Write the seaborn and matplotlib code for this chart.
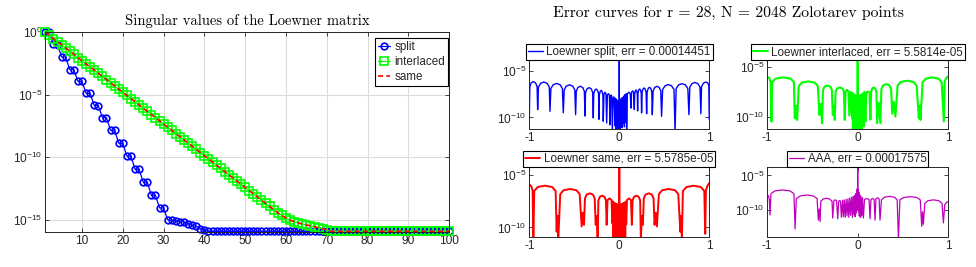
import numpy as np
import matplotlib
matplotlib.use('Agg')
import matplotlib.pyplot as plt
import seaborn as sns

# ============================================================================
# DATA (log10 values)
# ============================================================================

sv_index = np.arange(1, 101)

split_sv_log = [0.00, -0.03, -0.98, -1.00, -1.99, -2.01, -3.00, -3.02, -3.93, -3.95,
                -4.89, -4.91, -5.86, -5.88, -6.83, -6.85, -7.84, -7.86, -8.88, -8.90,
                -9.90, -9.92, -10.95, -10.97, -11.98, -12.00, -13.03, -13.05, -14.04, -14.06,
                -14.99, -15.04, -15.09, -15.15, -15.17, -15.31, -15.44, -15.52, -15.71, -15.85] \
               + [-15.92] * 60

interlaced_sv_log = [0.00, -0.25, -0.55, -0.78, -1.03, -1.28, -1.52, -1.78, -2.05, -2.30,
                     -2.55, -2.80, -3.04, -3.29, -3.55, -3.80, -4.05, -4.31, -4.56, -4.81,
                     -5.07, -5.32, -5.57, -5.83, -6.08, -6.33, -6.59, -6.84, -7.09, -7.35,
                     -7.60, -7.85, -8.11, -8.36, -8.61, -8.87, -9.12, -9.37, -9.63, -9.88,
                     -10.13, -10.39, -10.64, -10.89, -11.15, -11.40, -11.65, -11.91, -12.16, -12.41,
                     -12.67, -12.92, -13.17, -13.43, -13.68, -13.93, -14.19, -14.44, -14.65, -14.85,
                     -15.02, -15.14, -15.24, -15.33, -15.41, -15.48, -15.56, -15.63, -15.71, -15.80] \
                    + [-15.92] * 30

# "same" sits on top of "interlaced" at this scale
same_sv_log = list(interlaced_sv_log)

sv_labels = ['split', 'interlaced', 'same']

# error curves: (x, log10 |error|) vertices
split_curve = [
    (-1.000, -10.2), (-0.994, -6.7), (-0.980, -6.3), (-0.955, -6.15), (-0.930, -6.3), (-0.913, -6.7), (-0.907, -9.16),
    (-0.898, -6.75), (-0.875, -6.35), (-0.838, -6.2), (-0.801, -6.35), (-0.778, -6.75), (-0.770, -9.34),
    (-0.760, -6.9), (-0.735, -6.5), (-0.696, -6.35), (-0.657, -6.5), (-0.632, -6.9), (-0.622, -9.5),
    (-0.612, -7.05), (-0.590, -6.65), (-0.553, -6.5), (-0.516, -6.65), (-0.494, -7.05), (-0.485, -9.7),
    (-0.478, -7.2), (-0.461, -6.8), (-0.433, -6.65), (-0.405, -6.8), (-0.388, -7.2), (-0.381, -9.85),
    (-0.375, -7.35), (-0.360, -6.95), (-0.335, -6.8), (-0.310, -6.95), (-0.295, -7.35), (-0.289, -10.05),
    (-0.284, -7.45), (-0.273, -7.1), (-0.257, -6.95), (-0.241, -7.1), (-0.230, -7.45), (-0.226, -10.2),
    (-0.222, -7.6), (-0.212, -7.2), (-0.202, -7.1), (-0.192, -7.2), (-0.182, -7.6), (-0.178, -10.4),
    (-0.170, -7.45), (-0.159, -7.3), (-0.148, -7.45), (-0.140, -10.6),
    (-0.132, -7.6), (-0.121, -7.45), (-0.110, -7.6), (-0.103, -10.8),
    (-0.096, -7.7), (-0.090, -7.6), (-0.084, -7.7), (-0.077, -11.5),
    (-0.068, -7.9), (-0.062, -7.8), (-0.056, -7.9), (-0.048, -10.9),
    (-0.041, -7.95), (-0.035, -11.5), (-0.029, -8.1), (-0.024, -10.7), (-0.019, -8.2),
    (-0.014, -11.5), (-0.010, -8.3), (-0.006, -10.9), (-0.003, -8.35), (-0.001, -11.2),
    (0.000, -3.84),
    (0.001, -11.0), (0.004, -8.25), (0.008, -11.5), (0.013, -8.1), (0.018, -10.7),
    (0.024, -7.95), (0.030, -11.1), (0.036, -7.85), (0.043, -10.6), (0.050, -7.7),
    (0.057, -11.0), (0.064, -7.55), (0.071, -10.5), (0.077, -7.45), (0.082, -11.5),
    (0.090, -7.45), (0.106, -7.3), (0.122, -7.45), (0.130, -9.0),
    (0.137, -7.3), (0.148, -7.15), (0.159, -7.3), (0.167, -9.15),
    (0.171, -7.5), (0.178, -7.15), (0.186, -7.05), (0.194, -7.15), (0.200, -7.5), (0.204, -9.3),
    (0.208, -7.4), (0.216, -7.05), (0.226, -6.95), (0.236, -7.05), (0.244, -7.4), (0.248, -9.5),
    (0.254, -7.3), (0.264, -6.95), (0.276, -6.84), (0.288, -6.95), (0.298, -7.3), (0.304, -9.6),
    (0.310, -7.25), (0.322, -6.88), (0.336, -6.77), (0.350, -6.88), (0.361, -7.25), (0.367, -9.7),
    (0.376, -7.15), (0.395, -6.78), (0.419, -6.66), (0.443, -6.78), (0.461, -7.15), (0.470, -9.88),
    (0.482, -7.0), (0.510, -6.6), (0.545, -6.48), (0.580, -6.6), (0.608, -7.0), (0.620, -11.5),
    (0.632, -6.9), (0.660, -6.5), (0.697, -6.38), (0.734, -6.5), (0.762, -6.9), (0.774, -9.7),
    (0.784, -6.75), (0.808, -6.37), (0.840, -6.25), (0.872, -6.37), (0.897, -6.75), (0.907, -9.6),
    (0.914, -6.7), (0.935, -6.32), (0.960, -6.2), (0.985, -6.3), (0.995, -6.6), (1.000, -10.2),
]

interlaced_curve = [
    (-1.000, -5.92), (-0.975, -6.1), (-0.960, -6.5), (-0.952, -10.5),
    (-0.942, -6.5), (-0.905, -6.14), (-0.823, -6.02), (-0.741, -6.14), (-0.704, -6.5),
    (-0.694, -10.17), (-0.681, -8.9), (-0.668, -10.34),
    (-0.650, -6.9), (-0.617, -6.55), (-0.545, -6.43), (-0.473, -6.55), (-0.440, -6.9),
    (-0.422, -9.83), (-0.407, -8.7), (-0.393, -10.68),
    (-0.383, -7.3), (-0.367, -6.96), (-0.334, -6.84), (-0.301, -6.96), (-0.285, -7.3),
    (-0.275, -9.83), (-0.264, -8.9), (-0.253, -10.34),
    (-0.244, -7.5), (-0.229, -7.16), (-0.198, -7.04), (-0.167, -7.16), (-0.152, -7.5), (-0.143, -10.34),
    (-0.134, -7.45), (-0.118, -7.28), (-0.102, -7.45), (-0.092, -9.9),
    (-0.077, -7.5), (-0.062, -10.17),
    (-0.058, -7.6), (-0.053, -11.5), (-0.047, -7.7), (-0.042, -10.6), (-0.036, -7.8),
    (-0.031, -11.5), (-0.025, -7.85), (-0.020, -10.8), (-0.015, -7.9), (-0.010, -11.5),
    (-0.006, -8.0), (-0.003, -10.9), (-0.001, -8.1),
    (0.000, -4.253),
    (0.002, -11.5), (0.006, -8.0), (0.010, -10.9), (0.015, -7.9), (0.020, -11.5),
    (0.026, -7.85), (0.032, -10.7), (0.038, -7.8), (0.044, -11.5), (0.050, -7.7),
    (0.056, -10.6), (0.062, -7.6), (0.068, -11.0), (0.074, -7.5), (0.085, -10.5),
    (0.094, -7.6), (0.112, -7.45), (0.130, -7.6), (0.140, -10.3),
    (0.148, -7.5), (0.159, -7.16), (0.177, -7.04), (0.195, -7.16), (0.206, -7.5),
    (0.214, -10.68), (0.232, -8.6), (0.250, -10.68),
    (0.261, -7.2), (0.282, -6.82), (0.315, -6.7), (0.348, -6.82), (0.369, -7.2),
    (0.380, -9.7), (0.398, -8.5), (0.416, -10.0),
    (0.440, -6.85), (0.475, -6.48), (0.545, -6.36), (0.615, -6.48), (0.650, -6.85),
    (0.674, -10.17), (0.683, -8.9), (0.692, -10.34),
    (0.716, -6.5), (0.752, -6.14), (0.821, -6.02), (0.890, -6.14), (0.926, -6.5),
    (0.950, -10.5), (0.960, -6.4), (0.978, -6.05), (1.000, -5.92),
]

same_curve = [
    (-1.000, -5.92), (-0.978, -6.1), (-0.963, -6.5), (-0.955, -11.2),
    (-0.945, -6.55), (-0.905, -6.17), (-0.826, -6.05), (-0.747, -6.17), (-0.707, -6.55),
    (-0.696, -10.4), (-0.687, -8.9), (-0.678, -11.2),
    (-0.656, -6.85), (-0.620, -6.48), (-0.548, -6.36), (-0.476, -6.48), (-0.440, -6.85),
    (-0.418, -9.9), (-0.405, -8.6), (-0.392, -9.75),
    (-0.381, -7.25), (-0.362, -6.89), (-0.327, -6.77), (-0.292, -6.89), (-0.273, -7.25),
    (-0.262, -9.75), (-0.251, -8.9), (-0.240, -11.2),
    (-0.232, -7.45), (-0.217, -7.11), (-0.190, -6.99), (-0.163, -7.11), (-0.148, -7.45), (-0.140, -9.75),
    (-0.130, -7.4), (-0.108, -7.25), (-0.086, -7.4), (-0.077, -9.6),
    (-0.072, -7.55), (-0.066, -11.2), (-0.060, -7.65), (-0.054, -10.3), (-0.048, -7.7),
    (-0.042, -11.2), (-0.036, -7.75), (-0.030, -10.5), (-0.024, -7.8), (-0.018, -11.2),
    (-0.013, -7.85), (-0.008, -10.4), (-0.004, -7.9), (-0.001, -11.2),
    (0.000, -4.2535),
    (0.001, -11.2), (0.004, -7.9), (0.008, -10.5), (0.013, -7.85), (0.018, -11.2),
    (0.024, -7.8), (0.030, -10.4), (0.036, -7.75), (0.042, -11.2), (0.048, -7.7),
    (0.054, -10.3), (0.060, -7.65), (0.066, -11.2), (0.072, -7.55), (0.077, -9.7),
    (0.086, -7.4), (0.108, -7.25), (0.130, -7.4), (0.140, -9.75),
    (0.148, -7.45), (0.163, -7.11), (0.190, -6.99), (0.217, -7.11), (0.232, -7.45),
    (0.240, -11.2), (0.251, -8.9), (0.262, -9.75),
    (0.273, -7.25), (0.292, -6.89), (0.327, -6.77), (0.362, -6.89), (0.381, -7.25),
    (0.392, -9.75), (0.405, -8.6), (0.418, -9.9),
    (0.440, -6.85), (0.476, -6.48), (0.548, -6.36), (0.620, -6.48), (0.656, -6.85),
    (0.678, -10.4), (0.687, -8.9), (0.696, -11.2),
    (0.707, -6.55), (0.747, -6.17), (0.826, -6.05), (0.905, -6.17), (0.945, -6.55),
    (0.955, -10.6), (0.963, -6.5), (0.980, -6.05), (1.000, -5.8),
]

aaa_curve = [
    (-1.000, -7.8), (-0.985, -7.9), (-0.975, -8.4), (-0.967, -10.66),
    (-0.957, -7.6), (-0.910, -7.2), (-0.830, -7.09), (-0.750, -7.2), (-0.703, -7.6), (-0.691, -12.66),
    (-0.677, -8.3), (-0.630, -7.92), (-0.562, -7.8), (-0.494, -7.92), (-0.448, -8.3), (-0.434, -11.4),
    (-0.425, -9.8), (-0.415, -11.6),
    (-0.407, -8.7), (-0.380, -8.38), (-0.345, -8.28), (-0.310, -8.38), (-0.283, -8.7), (-0.276, -11.1),
    (-0.262, -8.6), (-0.248, -8.5), (-0.234, -8.6), (-0.220, -11.2),
    (-0.210, -8.7), (-0.200, -8.6), (-0.190, -8.7), (-0.180, -11.0),
    (-0.168, -8.55), (-0.158, -10.9), (-0.148, -8.5), (-0.138, -11.0),
    (-0.128, -8.45), (-0.118, -10.8), (-0.108, -8.35), (-0.098, -11.0),
    (-0.088, -8.25), (-0.078, -10.7), (-0.068, -8.1), (-0.058, -11.0),
    (-0.050, -8.0), (-0.042, -10.6), (-0.035, -7.9), (-0.028, -10.9),
    (-0.022, -7.6), (-0.016, -10.4), (-0.012, -7.2), (-0.008, -10.0),
    (-0.005, -6.9), (-0.002, -9.5),
    (0.000, -3.755),
    (0.002, -9.8), (0.005, -7.0), (0.009, -10.2), (0.013, -7.4), (0.018, -10.8),
    (0.023, -7.8), (0.030, -11.0), (0.037, -8.0), (0.045, -10.8), (0.053, -8.2),
    (0.0625, -11.1), (0.075, -8.45), (0.100, -8.3), (0.125, -8.45), (0.136, -11.2),
    (0.146, -8.45), (0.163, -8.3), (0.181, -8.45), (0.191, -11.4),
    (0.201, -8.35), (0.218, -8.2), (0.236, -8.35), (0.246, -11.4),
    (0.262, -8.5), (0.295, -8.12), (0.350, -8.0), (0.405, -8.12), (0.435, -8.5), (0.449, -14.2),
    (0.465, -8.5), (0.507, -8.16), (0.578, -8.04), (0.649, -8.16), (0.690, -8.5), (0.706, -12.3),
    (0.715, -10.2), (0.724, -12.0),
    (0.740, -9.0), (0.775, -8.62), (0.835, -8.5), (0.895, -8.62), (0.930, -9.0), (0.945, -11.8),
    (0.960, -9.2), (0.980, -8.85), (1.000, -8.76),
]

err_labels = ['Loewner split, err = 0.00014451',
              'Loewner interlaced, err = 5.5814e-05',
              'Loewner same, err = 5.5785e-05',
              'AAA, err = 0.00017575']

# ============================================================================
# STYLE
# ============================================================================

sns.set_style('ticks')
plt.rcParams['font.family'] = ['Liberation Sans', 'DejaVu Sans']
plt.rcParams['mathtext.fontset'] = 'custom'
plt.rcParams['mathtext.rm'] = 'Liberation Sans'
plt.rcParams['mathtext.it'] = 'Liberation Sans:italic'
plt.rcParams['mathtext.bf'] = 'Liberation Sans:bold'
plt.rcParams['axes.unicode_minus'] = False
plt.rcParams['axes.edgecolor'] = '#262626'
plt.rcParams['axes.linewidth'] = 0.7

DARK = '#262626'
TICK_SIZE = 8.6
LEGEND_SIZE = 8.4


def style_axes(ax, size=TICK_SIZE):
    ax.tick_params(which='both', direction='in', length=3, width=0.6,
                   top=True, right=True, labelsize=size, pad=2, colors=DARK)
    ax.minorticks_off()
    for sp in ax.spines.values():
        sp.set_visible(True)
        sp.set_color(DARK)


fig = plt.figure(figsize=(9.76, 2.67), dpi=100)

# ============================================================================
# LEFT: singular values
# ============================================================================

ax = fig.add_axes([0.0464, 0.1311, 0.4138, 0.7491])
sns.lineplot(x=sv_index, y=10.0 ** np.array(split_sv_log), ax=ax, color='b',
             marker='o', markersize=4.8, markerfacecolor='none', markeredgecolor='b',
             markeredgewidth=1.2, lw=0.9, label=sv_labels[0], clip_on=False,
             estimator=None, sort=False)
sns.lineplot(x=sv_index, y=10.0 ** np.array(interlaced_sv_log), ax=ax, color='#00ff00',
             marker='s', markersize=5.4, markerfacecolor='none', markeredgecolor='#00ff00',
             markeredgewidth=1.2, lw=0.9, label=sv_labels[1], clip_on=False,
             estimator=None, sort=False)
sns.lineplot(x=sv_index, y=10.0 ** np.array(same_sv_log), ax=ax, color='r',
             linestyle=(0, (3, 2)), lw=1.2, label=sv_labels[2], clip_on=False,
             estimator=None, sort=False)
ax.set_yscale('log')
ax.set_xlim(1, 100)
ax.set_ylim(10 ** -15.97, 1.0)
ax.set_xticks(np.arange(10, 101, 10))
ax.set_yticks([1e-15, 1e-10, 1e-5, 1e0])
ax.set_yticklabels(['$10^{-15}$', '$10^{-10}$', '$10^{-5}$', '$10^{0}$'])
style_axes(ax)
ax.grid(True, color='#dcdcdc', lw=0.8)
ax.set_axisbelow(True)
ax.set_xlabel('')
ax.set_ylabel('')
ax.set_title('Singular values of the Loewner matrix', fontfamily='cmr10',
             fontsize=10.5, pad=5, color='k')
leg = ax.legend(loc='upper right', bbox_to_anchor=(0.997, 0.97), fontsize=LEGEND_SIZE,
                handlelength=1.0, handletextpad=0.4, borderpad=0.25,
                labelspacing=0.25, fancybox=False, edgecolor='k', framealpha=1,
                borderaxespad=0)
leg.get_frame().set_linewidth(0.8)

# ============================================================================
# RIGHT: error curves
# ============================================================================

panels = [
    ([0.5423, 0.5157, 0.1844, 0.2596], split_curve, 'b', 1.0, (-11.27, -3.84)),
    ([0.7859, 0.5157, 0.1858, 0.2596], interlaced_curve, '#00ff00', 1.5, (-11.29, -4.253)),
    ([0.5423, 0.1112, 0.1844, 0.2644], same_curve, 'r', 1.4, (-10.93, -4.2535)),
    ([0.7859, 0.1112, 0.1858, 0.2644], aaa_curve, 'm', 0.9, (-13.86, -3.755)),
]

for (rect, curve, color, lw, ylog), label in zip(panels, err_labels):
    eax = fig.add_axes(rect)
    xy = np.array(curve)
    sns.lineplot(x=xy[:, 0], y=10.0 ** xy[:, 1], ax=eax, color=color, lw=lw,
                 label=label, estimator=None, sort=False)
    eax.set_yscale('log')
    eax.set_xlim(-1, 1)
    eax.set_ylim(10 ** ylog[0], 10 ** ylog[1])
    eax.set_xticks([-1, 0, 1])
    eax.set_xticklabels(['-1', '0', '1'])
    eax.set_yticks([1e-10, 1e-5])
    eax.set_yticklabels(['$10^{-10}$', '$10^{-5}$'])
    style_axes(eax)
    eax.set_xlabel('')
    eax.set_ylabel('')
    lg = eax.legend(loc='lower center', bbox_to_anchor=(0.5, 1.0), borderaxespad=0,
                    fontsize=LEGEND_SIZE, handlelength=1.3, handletextpad=0.3,
                    borderpad=0.15, fancybox=False, edgecolor='k', framealpha=1)
    lg.get_frame().set_linewidth(0.8)

fig.text(0.746, 0.951, 'Error curves for r = 28, N = 2048 Zolotarev points',
         ha='center', va='center', fontfamily='cmr10', fontsize=11.3, color='k')

fig.savefig('out.png', dpi=100)
